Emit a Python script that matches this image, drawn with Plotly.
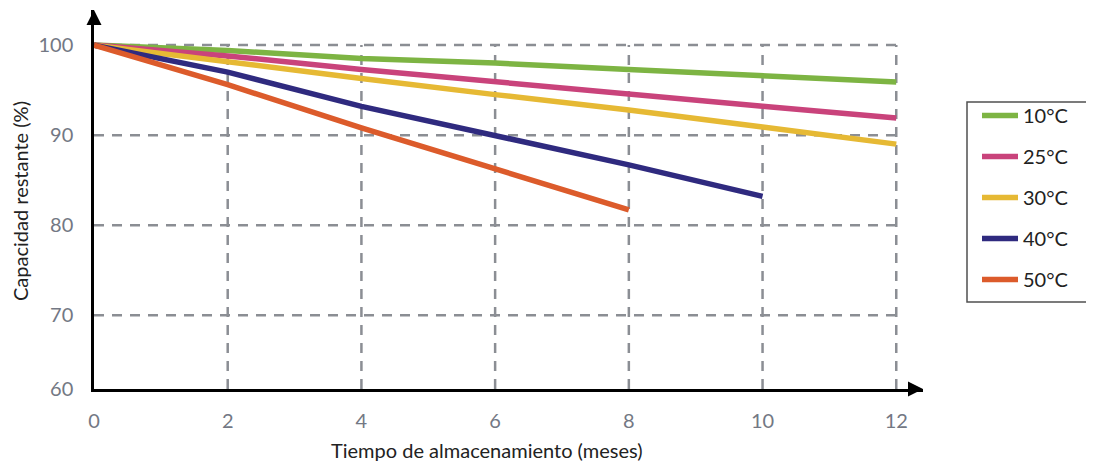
import plotly.graph_objects as go

# ---- data ----
months = [0, 2, 4, 6, 8, 10, 12]
labels = ["10°C", "25°C", "30°C", "40°C", "50°C"]
cap_10 = [100, 99.4, 98.5, 98.0, 97.3, 96.6, 95.9]
cap_25 = [100, 98.8, 97.3, 95.9, 94.6, 93.2, 91.9]
cap_30 = [100, 98.1, 96.3, 94.5, 92.8, 90.9, 89.0]
cap_40 = [100, 97.0, 93.2, 89.9, 86.7, 83.2]
cap_50 = [100, 95.6, 90.8, 86.2, 81.7]
colors = ["#7db443", "#c9437b", "#e6b934", "#2f2a7f", "#dc5b2b"]

x_ticks = [0, 2, 4, 6, 8, 10, 12]
y_tickvals = [61.8, 70, 80, 90, 100]
y_ticktext = ["60", "70", "80", "90", "100"]

x_range = [0, 12.4]
y_range = [61.8, 103.9]

series = [cap_10, cap_25, cap_30, cap_40, cap_50]

# page body has an 8px margin: the figure is drawn at (8, 8) in the window
OFF = 8
W, H = 1094 - OFF, 466 - OFF
plot_left, plot_right = 94, 923      # window px
plot_top, plot_bottom = 10, 389      # window px
pw, ph = plot_right - plot_left, plot_bottom - plot_top


def px_x(v):
    return (v - plot_left) / pw


def px_y(v):
    return (plot_bottom - v) / ph


fig = go.Figure()

grid_color = "#8b8e94"
grid_dash = "10px,8px"
# grid lines (drawn from tick arrays)
for xv in x_ticks[1:]:
    fig.add_shape(type="line", xref="x", yref="y", x0=xv, x1=xv,
                  y0=y_tickvals[0], y1=y_tickvals[-1],
                  line=dict(color=grid_color, width=2.5, dash=grid_dash), layer="below")
for yv in y_tickvals[1:]:
    fig.add_shape(type="line", xref="x", yref="y", x0=x_ticks[0], x1=x_ticks[-1],
                  y0=yv, y1=yv,
                  line=dict(color=grid_color, width=2.5, dash=grid_dash), layer="below")

for name, vals, col in zip(labels, series, colors):
    fig.add_trace(go.Scatter(
        x=months[:len(vals)], y=vals, mode="lines", name=name,
        line=dict(color=col, width=5.5), legendgroup=name,
    ))

font_family = "Lato, 'Open Sans', sans-serif"
tick_color = "#737884"

# legend frame
fig.add_shape(type="rect", xref="paper", yref="paper",
              x0=px_x(967), x1=px_x(1088), y0=px_y(302), y1=px_y(102),
              line=dict(color="#505050", width=1.5), fillcolor="white", layer="below")

fig.update_layout(
    width=W, height=H,
    margin=dict(l=plot_left - OFF, r=W - (plot_right - OFF), t=plot_top - OFF,
                b=H - (plot_bottom - OFF), autoexpand=False),
    paper_bgcolor="white", plot_bgcolor="white",
    showlegend=True,
    legend=dict(
        x=px_x(977), xanchor="left", y=px_y(96), yanchor="top",
        borderwidth=0, bgcolor="rgba(0,0,0,0)",
        font=dict(family=font_family, size=20, color="#222222"),
        tracegroupgap=12, itemwidth=36,
    ),
    font=dict(family=font_family),
)

fig.update_xaxes(
    range=x_range, tickvals=x_ticks, ticktext=[str(v) for v in x_ticks],
    showgrid=False, zeroline=False, automargin=False,
    showline=True, linecolor="black", linewidth=2.5,
    ticks="outside", ticklen=12, tickcolor="rgba(0,0,0,0)",
    tickfont=dict(family=font_family, size=20, color=tick_color),
)
fig.update_yaxes(
    range=y_range, tickvals=y_tickvals, ticktext=y_ticktext,
    showgrid=False, zeroline=False, automargin=False,
    showline=True, linecolor="black", linewidth=2.5,
    ticks="outside", ticklen=14, tickcolor="rgba(0,0,0,0)",
    tickfont=dict(family=font_family, size=20, color=tick_color),
)

# axis arrows
fig.add_annotation(x=x_range[0], y=y_range[1], xref="x", yref="y",
                   ax=0, ay=14, showarrow=True, arrowhead=2, arrowsize=1.2,
                   arrowwidth=2.5, arrowcolor="black", text="")
fig.add_annotation(x=x_range[1], y=y_range[0], xref="x", yref="y",
                   ax=-14, ay=0, showarrow=True, arrowhead=2, arrowsize=1.2,
                   arrowwidth=2.5, arrowcolor="black", text="")

# axis titles
fig.add_annotation(text="Tiempo de almacenamiento (meses)", xref="paper", yref="paper",
                   x=px_x(487), y=px_y(450),
                   yanchor="middle", xanchor="center",
                   showarrow=False, font=dict(family=font_family, size=20, color="#222222"))
fig.add_annotation(text="Capacidad restante (%)", xref="paper", yref="paper",
                   x=px_x(20), y=px_y(201), textangle=-90,
                   xanchor="center", yanchor="middle",
                   showarrow=False, font=dict(family=font_family, size=20, color="#222222"))

fig.write_html("out.html")
